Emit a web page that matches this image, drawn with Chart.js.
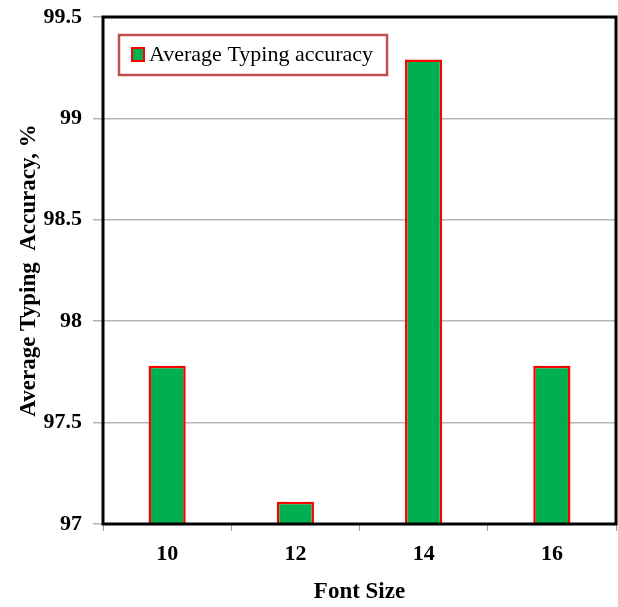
<!DOCTYPE html>
<html>
<head>
<meta charset="utf-8">
<script src="https://cdn.jsdelivr.net/npm/chart.js@4"></script>
<style>
html, body { margin: 0; padding: 0; background: #fff; }
</style>
</head>
<body>
<canvas id="chart" width="618" height="607"></canvas>
<script>
const fontSizes = ['10', '12', '14', '16'];
const accuracy = [97.78, 97.11, 99.29, 97.78];
const yTicks = [97, 97.5, 98, 98.5, 99, 99.5];
const seriesName = 'Average Typing accuracy';

const serif = '"Liberation Serif", "Times New Roman", serif';

// frame around the plot + legend box inside it
const framePlugin = {
  id: 'frame',
  afterDraw(chart) {
    const c = chart.ctx;
    const a = chart.chartArea;
    c.save();
    c.strokeStyle = '#000';
    c.lineWidth = 3;
    c.strokeRect(a.left, a.top, a.right - a.left, a.bottom - a.top);

    // legend
    const lx = a.left + 16, ly = a.top + 18;
    c.font = '22px ' + serif;
    const tw = c.measureText(seriesName).width;
    c.strokeStyle = '#c0504d';
    c.lineWidth = 2.5;
    c.strokeRect(lx, ly, tw + 44, 40);
    c.fillStyle = '#00b050';
    c.fillRect(lx + 13, ly + 13, 12, 13);
    c.strokeStyle = '#ff0000';
    c.lineWidth = 2;
    c.strokeRect(lx + 13, ly + 13, 12, 13);
    c.fillStyle = '#000';
    c.textBaseline = 'middle';
    c.fillText(seriesName, lx + 30, ly + 20);
    c.restore();
  }
};

new Chart(document.getElementById('chart'), {
  type: 'bar',
  data: {
    labels: fontSizes,
    datasets: [{
      label: seriesName,
      data: accuracy,
      backgroundColor: '#00b050',
      borderColor: '#ff0000',
      borderWidth: 2.5,
      borderSkipped: false,
      categoryPercentage: 1,
      barPercentage: 0.29
    }]
  },
  options: {
    responsive: false,
    animation: false,
    layout: { padding: { top: 17, right: 2, left: 0, bottom: 0 } },
    scales: {
      x: {
        afterFit: (s) => { s.height = 83; s.paddingLeft = 0; s.paddingRight = 0; },
        grid: { drawOnChartArea: false, color: '#999', tickLength: 7 },
        border: { color: '#999' },
        ticks: { color: '#000', padding: 10, font: { family: serif, size: 22, weight: 'bold' } },
        title: {
          display: true, text: 'Font Size', color: '#000',
          padding: { top: 4, bottom: 1 },
          font: { family: serif, size: 23, weight: 'bold' }
        }
      },
      y: {
        min: 97,
        max: 99.5,
        afterFit: (s) => { s.width = 103; s.paddingTop = 0; s.paddingBottom = 0; },
        afterBuildTicks: (s) => { s.ticks = yTicks.map(v => ({ value: v })); },
        grid: { color: '#b5b5b5', lineWidth: 1.5, tickLength: 10 },
        border: { display: false },
        ticks: {
          color: '#000', padding: 11,
          font: { family: serif, size: 22, weight: 'bold' },
          callback: (v) => String(v)
        },
        title: {
          display: true, text: 'Average Typing  Accuracy, %', color: '#000',
          padding: { top: 15, bottom: 0 },
          font: { family: serif, size: 23, weight: 'bold' }
        }
      }
    },
    plugins: {
      legend: { display: false },
      tooltip: { enabled: false }
    }
  },
  plugins: [framePlugin]
});
</script>
</body>
</html>
